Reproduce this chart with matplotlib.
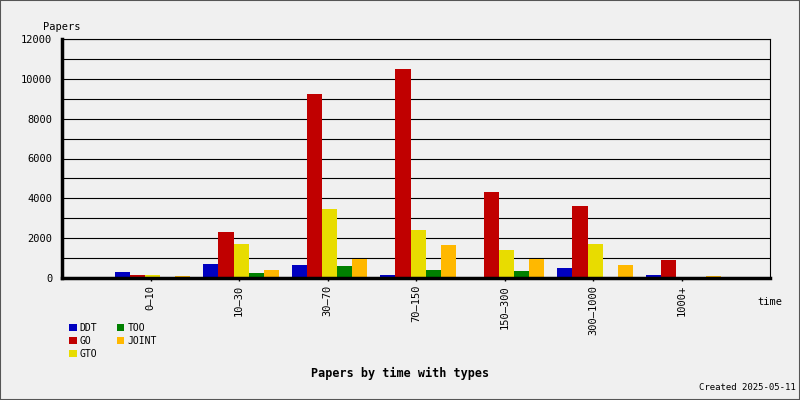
import matplotlib
matplotlib.use('Agg')
import matplotlib.pyplot as plt
import numpy as np
from matplotlib.patches import Rectangle

# data
categories = ['0\u201310', '10\u201330', '30\u201370', '70\u2013150', '150\u2013300', '300\u20131000', '1000+']
series = ['DDT', 'GO', 'GTO', 'TOO', 'JOINT']
ddt = [290, 690, 640, 135, 40, 490, 135]
go = [150, 2300, 9250, 10500, 4310, 3610, 890]
gto = [150, 1720, 3460, 2400, 1400, 1700, 25]
too = [60, 235, 590, 390, 335, 35, 20]
joint = [100, 390, 940, 1645, 940, 640, 85]
colors = ['#0000c0', '#c00000', '#e8dc00', '#008000', '#ffb800']

bg = '#f0f0f0'
font = 'DejaVu Sans Mono'
plt.rcParams['font.family'] = font

fig = plt.figure(figsize=(8, 4), dpi=100, facecolor=bg)
ax = fig.add_axes([62 / 800, 1 - 278 / 400, 708 / 800, 239 / 400])
ax.set_facecolor(bg)

x = np.arange(1, len(categories) + 1)
w = 0.17
for i, (name, vals) in enumerate(zip(series, [ddt, go, gto, too, joint])):
    ax.bar(x + (i - 2) * w + 0.023, vals, width=w, color=colors[i], label=name, zorder=3)

ax.set_xlim(0, 8)
ax.set_ylim(0, 12000)
ax.set_yticks(np.arange(0, 12001, 2000))
ax.set_yticks(np.arange(0, 12001, 1000), minor=True)
ax.grid(axis='y', which='both', color='black', linewidth=0.8, zorder=1)
ax.tick_params(axis='y', which='both', length=0, labelsize=7.5, pad=7)
ax.set_xticks(x)
ax.set_xticklabels(categories, rotation=90, fontsize=7.5)
ax.tick_params(axis='x', length=2, width=1, pad=3)

for s in ['top', 'right']:
    ax.spines[s].set_linewidth(0.8)
ax.spines['left'].set_linewidth(2.5)
ax.spines['bottom'].set_linewidth(2.5)
for s in ax.spines.values():
    s.set_zorder(4)

fig.text(43 / 800, 1 - 27 / 400, 'Papers', fontsize=7.5, va='center', ha='left')
fig.text(782 / 800, 1 - 302 / 400, 'time', fontsize=7.5, va='center', ha='right')
fig.text(0.5, 1 - 373 / 400, 'Papers by time with types', fontsize=8.5,
         fontweight='bold', ha='center', va='center')
fig.text(796 / 800, 1 - 388 / 400, 'Created 2025-05-11', fontsize=6.5,
         ha='right', va='center')

fig.legend(loc='upper left', bbox_to_anchor=(64 / 800, 1 - 318 / 400), ncol=2,
           frameon=False, fontsize=7, handlelength=0.8, handleheight=0.8,
           handletextpad=0.3, columnspacing=2.0, labelspacing=0.3, borderpad=0)

fig.patches.append(Rectangle((0, 0), 1, 1, transform=fig.transFigure, fill=False,
                             edgecolor='#555555', linewidth=1.5))

fig.savefig('out.png', dpi=100, facecolor=bg)
